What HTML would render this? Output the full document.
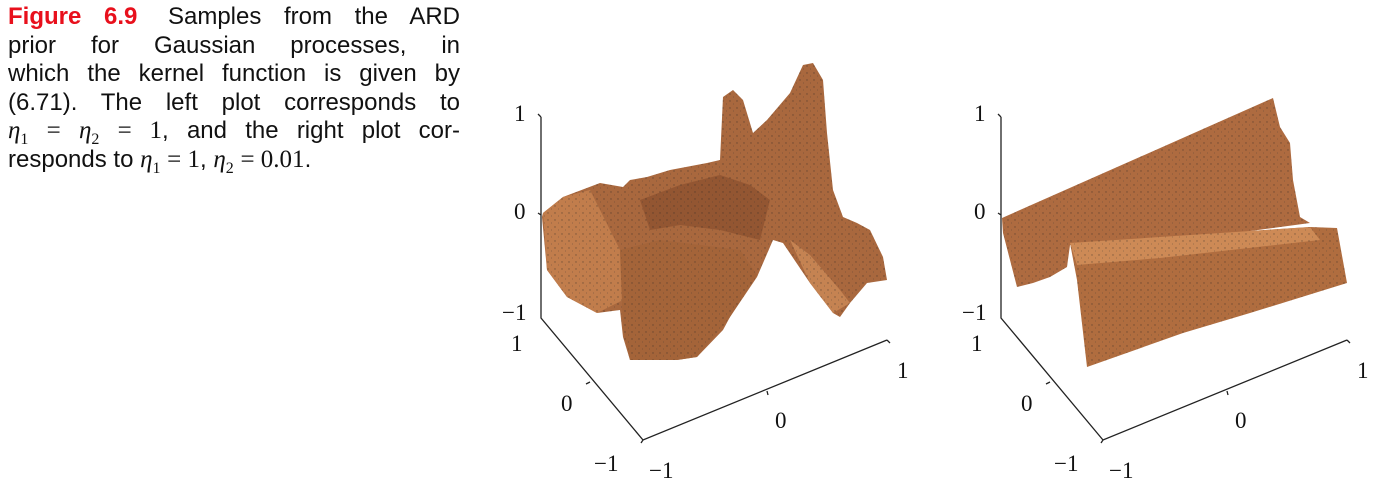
<!DOCTYPE html>
<html><head><meta charset="utf-8"><style>
body{margin:0;background:#fff;width:1386px;height:498px;overflow:hidden;position:relative}
#cap{position:absolute;left:8px;top:3px;width:452px;font-family:"Liberation Sans",sans-serif;font-size:24px;line-height:28.6px;color:#111}
#cap div{text-align:justify;text-align-last:justify;white-space:nowrap;height:28.6px}
#cap div.last{text-align-last:left}
#cap b{color:#e8101c;margin-right:8px}
.m{font-family:"Liberation Serif",serif;font-style:italic;font-size:25px}
.n{font-family:"Liberation Serif",serif;font-size:25px}
sub{font-family:"Liberation Serif",serif;font-size:16px;line-height:0}
svg{position:absolute;left:0;top:0}
</style></head><body>
<div id="cap">
<div><b>Figure 6.9</b> Samples from the ARD</div>
<div>prior for Gaussian processes, in</div>
<div>which the kernel function is given by</div>
<div>(6.71). The left plot corresponds to</div>
<div><span class="m">η</span><sub>1</sub> <span class="n">=</span> <span class="m">η</span><sub>2</sub> <span class="n">= 1</span>, and the right plot cor-</div>
<div class="last">responds to <span class="m">η</span><sub>1</sub> <span class="n">= 1</span>, <span class="m">η</span><sub>2</sub> <span class="n">= 0.01</span>.</div>
</div>
<svg width="1386" height="498">
<defs>
<pattern id="dots" width="7" height="7" patternUnits="userSpaceOnUse"><circle cx="2" cy="3" r="0.7" fill="#222"/><circle cx="5.5" cy="6" r="0.5" fill="#333"/></pattern>
</defs>
<g id="left"></g>
<g id="right" transform="translate(460,0)"></g>
</svg>
<script>
const zTicks=["1","0","\u22121"];
const yTicks=["1","0","\u22121"];
const xTicks=["\u22121","0","1"];
const NS="http://www.w3.org/2000/svg";
function mk(p,t,a){const e=document.createElementNS(NS,t);for(const k in a)e.setAttribute(k,a[k]);p.appendChild(e);return e;}
function axes(g){
  const ax=mk(g,'path',{d:'M541,117 l-3,-3 M541,117 L541,318 L643,440 L887,340 M541,215 l-3,-2 M590,382 l-4,2 M767,391 l1,4 M887,340 l3,3 M643,440 l-2,3',stroke:'#222','stroke-width':1.3,fill:'none'});
  
  
  const zp=[[514,121],[514,219],[502,320]],yp=[[511,351],[561,411],[594,471]],xp=[[649,478],[775,428],[897,378]];
  const mkT=(arr,pos,nm)=>arr.forEach((s,i)=>{const t=mk(g,'text',{x:pos[i][0],y:pos[i][1],'font-family':'Liberation Serif, serif','font-size':23,fill:'#111'});t.textContent=s;
    
    });
  mkT(zTicks,zp,'z');mkT(yTicks,yp,'y');mkT(xTicks,xp,'x');
}
function surf(g,polys){polys.forEach(([pts,fill])=>{const p=mk(g,'polygon',{points:pts,fill:fill});
  
  
  mk(g,'polygon',{points:pts,fill:'url(#dots)',opacity:0.45});});}
const L=document.getElementById('left'),R=document.getElementById('right');
axes(L);axes(R);
surf(L,[
["543,213 563,197 600,183 623,187 630,180 647,177 670,170 707,163 720,160 723,97 733,90 743,100 753,133 767,120 790,93 803,65 813,63 823,80 827,133 833,190 843,217 857,223 870,230 883,257 887,280 867,283 850,303 840,317 833,313 810,283 783,243 773,240 757,277 730,317 723,330 697,357 677,360 630,360 623,337 620,310 597,313 567,297 547,270 542,217","#a9683e"],
["543,213 563,197 590,190 600,210 610,230 620,250 623,300 597,313 567,297 547,270","#c17d4c"],
["640,200 680,185 720,175 750,185 770,200 760,240 720,230 680,225 650,230","#935632"],
["620,250 660,240 700,245 740,250 757,275 730,317 697,357 677,360 630,360 623,330","#a46439"],
["790,240 810,255 840,290 850,303 833,313 810,283","#c58352"]
]);
surf(R,[
["542,218 813,98 820,127 830,143 833,180 840,217 850,223 723,240 610,245 607,267 590,277 573,283 557,287 543,233","#ae6b40"],
["610,243 850,227 877,228 887,283 790,313 723,333 627,367 617,280","#b06d3f"],
["610,243 850,227 860,240 700,258 617,265","#cd8a56"]
]);
</script>
</body></html>
